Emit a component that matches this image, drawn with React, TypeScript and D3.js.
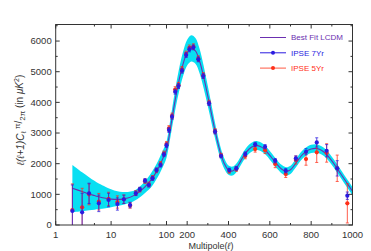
import * as d3 from "d3";

// best fit curve + cosmic variance band
const fitL = [2, 3, 4, 5, 6, 8, 10, 13, 16, 20, 25, 30, 40, 50, 60, 70, 80, 90, 100, 120, 140, 160, 180, 200, 220, 240, 260, 280, 300, 320, 340, 360, 380, 400, 420, 440, 460, 480, 500, 520, 540, 560, 580, 600, 620, 640, 660, 680, 700, 720, 740, 760, 780, 800, 820, 840, 860, 880, 900, 920, 940, 960, 980, 1000];
const fitV = [1200, 1090, 1010, 960, 920, 870, 845, 835, 845, 880, 950, 1040, 1230, 1420, 1620, 1830, 2040, 2250, 2450, 3200, 4000, 4700, 5250, 5620, 5760, 5680, 5350, 4820, 4200, 3550, 2920, 2380, 2000, 1790, 1760, 1880, 2100, 2320, 2480, 2570, 2590, 2540, 2430, 2270, 2100, 1940, 1810, 1750, 1800, 1960, 2150, 2310, 2420, 2480, 2500, 2470, 2390, 2260, 2090, 1900, 1700, 1500, 1300, 1100];
const bandHi = [1960, 1720, 1560, 1440, 1350, 1240, 1170, 1100, 1080, 1080, 1110, 1190, 1400, 1630, 1860, 2080, 2310, 2510, 2720, 3490, 4330, 5070, 5650, 6040, 6190, 6100, 5750, 5190, 4530, 3840, 3160, 2580, 2170, 1940, 1905, 2025, 2245, 2465, 2625, 2715, 2735, 2680, 2570, 2410, 2240, 2075, 1945, 1885, 1935, 2095, 2285, 2445, 2555, 2615, 2635, 2605, 2525, 2395, 2225, 2035, 1835, 1635, 1435, 1235];
const bandLo = [420, 450, 480, 500, 520, 550, 580, 620, 650, 700, 770, 850, 1030, 1180, 1370, 1570, 1780, 1970, 2190, 2910, 3670, 4330, 4850, 5200, 5330, 5260, 4950, 4450, 3870, 3260, 2680, 2180, 1830, 1640, 1615, 1735, 1955, 2175, 2335, 2425, 2445, 2400, 2290, 2130, 1960, 1805, 1675, 1615, 1665, 1825, 2015, 2175, 2285, 2345, 2365, 2335, 2255, 2125, 1955, 1765, 1565, 1365, 1165, 965];

// binned multipoles
const binL = [2, 3, 4, 6, 9, 13, 17, 22, 28, 33, 41, 48, 56, 66, 78, 90, 100, 112, 127, 142, 158, 175, 195, 211, 230, 254, 278, 306, 335, 364, 404, 438, 481, 529, 577, 626, 677, 726, 775, 827, 875, 926, 975];
const yr7V = [456, 414, 1033, 707, 815, 685, 838, 652, 1033, 1164, 1445, 1304, 1522, 1793, 1956, 2300, 2600, 3097, 3531, 4347, 4532, 5031, 5543, 5729, 5794, 5403, 4858, 3968, 3042, 2250, 1793, 1848, 2315, 2630, 2553, 2097, 1770, 2174, 2390, 2694, 2422, 1848, 955];
const yr7E = [850, 620, 330, 270, 220, 200, 135, 90, 70, 65, 65, 65, 65, 65, 65, 70, 70, 80, 80, 80, 80, 80, 80, 80, 80, 80, 80, 70, 70, 60, 60, 60, 70, 70, 70, 70, 70, 80, 100, 150, 200, 250, 120];
const yr5V = [489, 577, 1000, 760, 849, 750, 840, 640, 1040, 1150, 1430, 1320, 1540, 1780, 1990, 2330, 2640, 3150, 3560, 4420, 4560, 5080, 5580, 5780, 5820, 5430, 4880, 3990, 3060, 2270, 1760, 1830, 2250, 2478, 2440, 1990, 1660, 2120, 2150, 2370, 2350, 1850, 707];
const yr5E = [850, 620, 340, 270, 220, 200, 140, 90, 80, 75, 75, 75, 75, 75, 80, 80, 80, 90, 90, 90, 90, 90, 90, 90, 90, 90, 90, 80, 80, 70, 70, 80, 90, 100, 110, 120, 110, 130, 200, 330, 300, 430, 640];

const xLabelTicks = [1, 10, 100, 200, 400, 600, 800, 1000];
const xMinorTicks = [5, 50, 300, 500, 700, 900];

const legendNames = ["Best Fit LCDM", "IPSE 7Yr", "IPSE 5Yr"];

const W = 371;
const H = 251;
const left = 55.7;
const right = 352.5;
const top = 24.5;
const bottom = 225;
const brk = 166.5; // where log part meets linear part (l = 100)

const purple = "#6b2fb0";
const blue = "#2a1be0";
const red = "#ff2f18";
const cyan = "#08dff2";
const axisCol = "#333";
const font = "'Liberation Sans', Arial, sans-serif";

export default function App() {
  const xLog = d3.scaleLog().domain([1, 100]).range([left, brk]);
  const xLin = d3.scaleLinear().domain([100, 1000]).range([brk, right]);
  const x = (l: number) => (l <= 100 ? xLog(l) : xLin(l));
  const y = d3.scaleLinear().domain([0, 6540]).range([bottom, top]);

  const band = d3
    .area<number>()
    .x((d, i) => x(fitL[i]))
    .y0((d, i) => y(bandLo[i]))
    .y1((d, i) => y(bandHi[i]))
    .curve(d3.curveCatmullRom);
  const fitLine = d3
    .line<number>()
    .x((d, i) => x(fitL[i]))
    .y((d) => y(d))
    .curve(d3.curveCatmullRom);

  const yMajor = y.ticks(7);
  const yMinor = y.ticks(14).filter((t) => t % 1000 !== 0);

  const series = [
    { v: yr5V, e: yr5E, c: red },
    { v: yr7V, e: yr7E, c: blue },
  ];

  return (
    <div style={{ position: "absolute", left: 0, top: 0, background: "#fff" }}>
      <svg width={W} height={H} style={{ display: "block", fontFamily: font }}>
        <defs>
          <clipPath id="plot">
            <rect x={left} y={top} width={right - left} height={bottom - top} />
          </clipPath>
        </defs>

        <g clipPath="url(#plot)">
          <path d={band(fitV) || ""} fill={cyan} />
          <path d={fitLine(fitV) || ""} fill="none" stroke={purple} strokeWidth={1.1} />
          {series.map((s, si) => (
            <g key={si}>
              {binL.map((l, i) => {
                const cx = x(l);
                const y1 = y(s.v[i] + s.e[i]);
                const y0 = y(Math.max(s.v[i] - s.e[i], -300));
                return (
                  <g key={i} stroke={s.c} strokeWidth={0.9} opacity={0.85}>
                    <line x1={cx} x2={cx} y1={y0} y2={y1} />
                    <line x1={cx - 1.5} x2={cx + 1.5} y1={y1} y2={y1} />
                    <line x1={cx - 1.5} x2={cx + 1.5} y1={y0} y2={y0} />
                  </g>
                );
              })}
              {binL.map((l, i) => (
                <circle key={"p" + i} cx={x(l)} cy={y(s.v[i])} r={2.1} fill={s.c} />
              ))}
            </g>
          ))}
        </g>

        {/* frame */}
        <rect x={left} y={top} width={right - left} height={bottom - top} fill="none" stroke={axisCol} strokeWidth={1} />

        {/* y ticks */}
        {yMajor.map((t) => (
          <g key={"ym" + t}>
            <line x1={left} x2={left + 4} y1={y(t)} y2={y(t)} stroke={axisCol} />
            <line x1={right} x2={right - 4} y1={y(t)} y2={y(t)} stroke={axisCol} />
            <text x={left - 4} y={y(t)} dy="0.35em" textAnchor="end" fontSize={9.5} fill={axisCol}>
              {t}
            </text>
          </g>
        ))}
        {yMinor.map((t) => (
          <g key={"yn" + t}>
            <line x1={left} x2={left + 2} y1={y(t)} y2={y(t)} stroke={axisCol} />
            <line x1={right} x2={right - 2} y1={y(t)} y2={y(t)} stroke={axisCol} />
          </g>
        ))}

        {/* x ticks */}
        {xLabelTicks.map((t) => (
          <g key={"xm" + t}>
            <line x1={x(t)} x2={x(t)} y1={bottom} y2={bottom - 4} stroke={axisCol} />
            <line x1={x(t)} x2={x(t)} y1={top} y2={top + 4} stroke={axisCol} />
            <text x={x(t)} y={238} textAnchor="middle" fontSize={9.5} fill={axisCol}>
              {t}
            </text>
          </g>
        ))}
        {xMinorTicks.map((t) => (
          <g key={"xn" + t}>
            <line x1={x(t)} x2={x(t)} y1={bottom} y2={bottom - 2} stroke={axisCol} />
            <line x1={x(t)} x2={x(t)} y1={top} y2={top + 2} stroke={axisCol} />
          </g>
        ))}

        {/* axis titles */}
        <text x={211} y={249} textAnchor="middle" fontSize={9} fill={axisCol}>
          Multipole(<tspan fontStyle="italic">ℓ</tspan>)
        </text>
        <text transform="translate(24,120) rotate(-90)" textAnchor="middle" fontSize={10} fill={axisCol}>
          <tspan fontStyle="italic">ℓ(ℓ+1)C</tspan>
          <tspan fontSize={7} dy={2}>ℓ</tspan>
          <tspan fontSize={8} dy={-6}> π</tspan>
          <tspan dy={2}>/</tspan>
          <tspan fontSize={8} dy={3}>2π</tspan>
          <tspan dy={-2}> (in </tspan>
          <tspan fontStyle="italic">μK</tspan>
          <tspan fontSize={7} dy={-4}>2</tspan>
          <tspan dy={4}>)</tspan>
        </text>

        {/* legend */}
        {legendNames.map((name, i) => {
          const ly = 37.5 + i * 15.3;
          const c = [purple, blue, "#ff5a44"][i];
          return (
            <g key={name}>
              <line x1={260} x2={286} y1={ly} y2={ly} stroke={c} strokeWidth={1} />
              {i > 0 && <circle cx={273} cy={ly} r={2} fill={[purple, blue, red][i]} />}
              <text x={291} y={ly} dy="0.35em" fontSize={8} fill={[purple, blue, red][i]}>
                {name}
              </text>
            </g>
          );
        })}
      </svg>
    </div>
  );
}
